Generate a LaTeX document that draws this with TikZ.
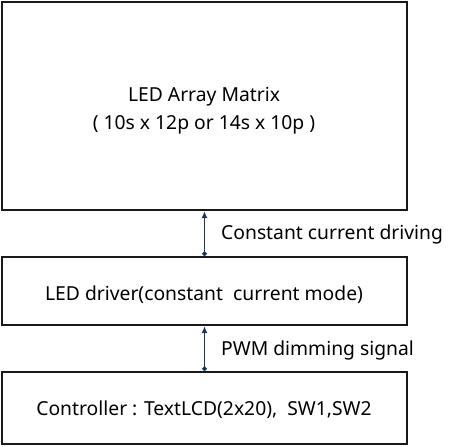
\documentclass[tikz,border=0pt]{standalone}
\usepackage{fontspec}
\setmainfont{Noto Sans}
\usetikzlibrary{arrows.meta}
\definecolor{navy}{RGB}{28,52,98}
\begin{document}
\begin{tikzpicture}[x=1pt,y=-1pt,
  box/.style={draw=black!90,line width=2.2pt,rectangle,inner sep=0pt,minimum width=405pt},
  txt/.style={font=\fontsize{19.3}{28}\selectfont,align=center,inner sep=0pt},
  arr/.style={draw=navy,line width=1.8pt,{Circle[length=4.5pt]}-{Latex[length=7pt,width=6pt]}}]
\useasboundingbox (0,0) rectangle (450,447);
\node[box,minimum height=208pt] (top) at (204.5,106) {};
\node[box,minimum height=68pt] (mid) at (204.5,291) {};
\node[box,minimum height=72pt] (bot) at (204.5,408) {};
\node[txt] (toptxt) at (204,111) {LED Array Matrix\\( 10s x 12p or 14s x 10p )};
\node[txt] (midtxt) at (204,295) {LED driver(constant\ \ current mode)};
\node[txt] (bottxt) at (204,410) {Controller : TextLCD(2x20),\ \ SW1,SW2};
\draw[arr] (mid.north) -- (top.south);
\draw[arr] (bot.north) -- (mid.south);
\node[txt,anchor=west] (l1) at (221,234) {Constant current driving};
\node[txt,anchor=west] (l2) at (221,350) {PWM dimming signal};
\end{tikzpicture}
\end{document}
